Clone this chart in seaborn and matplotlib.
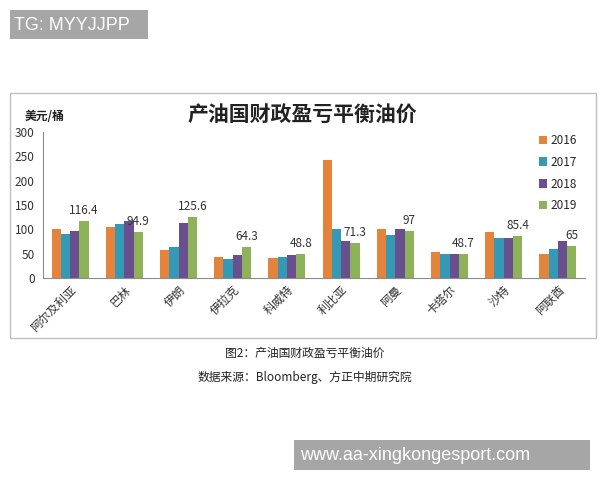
import numpy as np
import pandas as pd
import matplotlib.pyplot as plt
import matplotlib.patches as mpatches
import seaborn as sns

countries = ['阿尔及利亚', '巴林', '伊朗', '伊拉克', '科威特',
             '利比亚', '阿曼', '卡塔尔', '沙特', '阿联酋']
years = ['2016', '2017', '2018', '2019']
v2016 = [101, 104, 57, 44, 42, 242, 100, 53, 95, 50]
v2017 = [90, 110, 64, 40, 43, 101, 89, 48.5, 81.5, 59.5]
v2018 = [96.5, 117.5, 112, 47, 48, 77, 100, 48.5, 81.5, 76]
v2019 = [116.4, 94.9, 125.6, 64.3, 48.8, 71.3, 97, 48.7, 85.4, 65]
colors = ['#E4833C', '#3399B5', '#6A4F8E', '#8DB25A']

df = pd.DataFrame({
    'country': countries * 4,
    'year': np.repeat(years, len(countries)),
    'value': v2016 + v2017 + v2018 + v2019,
})

sns.set_style('white')
plt.rcParams['font.family'] = ['Noto Sans CJK SC', 'DejaVu Sans']
plt.rcParams['axes.unicode_minus'] = False

fig = plt.figure(figsize=(6, 4.8), dpi=100)
ax = fig.add_axes([43 / 600, 1 - 278 / 480, 542 / 600, 146 / 480])

sns.barplot(data=df, x='country', y='value', hue='year', palette=colors,
            width=0.68, linewidth=0, saturation=1, ax=ax)

# value labels on the 2019 bars
ax.bar_label(ax.containers[3], labels=[f'{v:g}' for v in v2019],
             padding=3, fontsize=8.5, color='#333333')

ax.set_ylim(0, 300)
ax.set_xlim(-0.5, len(countries) - 0.5)
ax.set_yticks(range(0, 301, 50))
ax.set_xlabel('')
ax.set_ylabel('')

for side in ['top', 'right']:
    ax.spines[side].set_visible(False)
for side in ['left', 'bottom']:
    ax.spines[side].set_color('#8C8C8C')
    ax.spines[side].set_linewidth(0.8)

ax.set_xticks(np.arange(-0.5, len(countries), 1), minor=True)
ax.tick_params(axis='x', which='major', length=0, pad=4)
ax.tick_params(axis='x', which='minor', length=4, color='#8C8C8C', direction='out')
ax.tick_params(axis='y', length=4, color='#8C8C8C', direction='out', labelsize=8.5,
               labelcolor='#333333', pad=2)
plt.setp(ax.get_xticklabels(), rotation=45, ha='right', rotation_mode='anchor',
         fontsize=8.5, color='#333333')

ax.legend(title=None, frameon=False, loc='upper left',
          bbox_to_anchor=(533 / 600, 1 - 128 / 480), bbox_transform=fig.transFigure,
          handlelength=0.7, handleheight=0.7, handletextpad=0.3, labelspacing=0.75,
          borderpad=0, fontsize=8.5)

# chart frame, title and unit
fig.patches.append(mpatches.Rectangle((10 / 600, 1 - 338 / 480), 586 / 600, 245 / 480,
                                      transform=fig.transFigure, fill=False,
                                      edgecolor='#BFBFBF', linewidth=1))
fig.text(302 / 600, 1 - 115 / 480, '产油国财政盈亏平衡油价', ha='center', va='center',
         fontsize=15, fontweight='bold', color='#222222')
fig.text(25 / 600, 1 - 116 / 480, '美元/桶', ha='left', va='center',
         fontsize=8.5, fontweight='bold', color='#222222')

# captions
fig.text(305 / 600, 1 - 353 / 480, '图2：产油国财政盈亏平衡油价', ha='center', va='center',
         fontsize=8.5, color='#222222')
fig.text(305 / 600, 1 - 377 / 480, '数据来源：Bloomberg、方正中期研究院', ha='center',
         va='center', fontsize=8.5, color='#222222')

# watermark boxes
fig.patches.append(mpatches.Rectangle((10 / 600, 1 - 39 / 480), 138 / 600, 29 / 480,
                                      transform=fig.transFigure, color='#A6A6A6', lw=0))
fig.text(14 / 600, 1 - 25 / 480, 'TG: MYYJJPP', ha='left', va='center',
         fontsize=13, color='white', family='Liberation Sans')
fig.patches.append(mpatches.Rectangle((294 / 600, 1 - 470 / 480), 296 / 600, 30 / 480,
                                      transform=fig.transFigure, color='#A6A6A6', lw=0))
fig.text(300 / 600, 1 - 455 / 480, 'www.aa-xingkongesport.com', ha='left', va='center',
         fontsize=13, color='white', family='Liberation Sans')

fig.savefig('out.png', dpi=100)
